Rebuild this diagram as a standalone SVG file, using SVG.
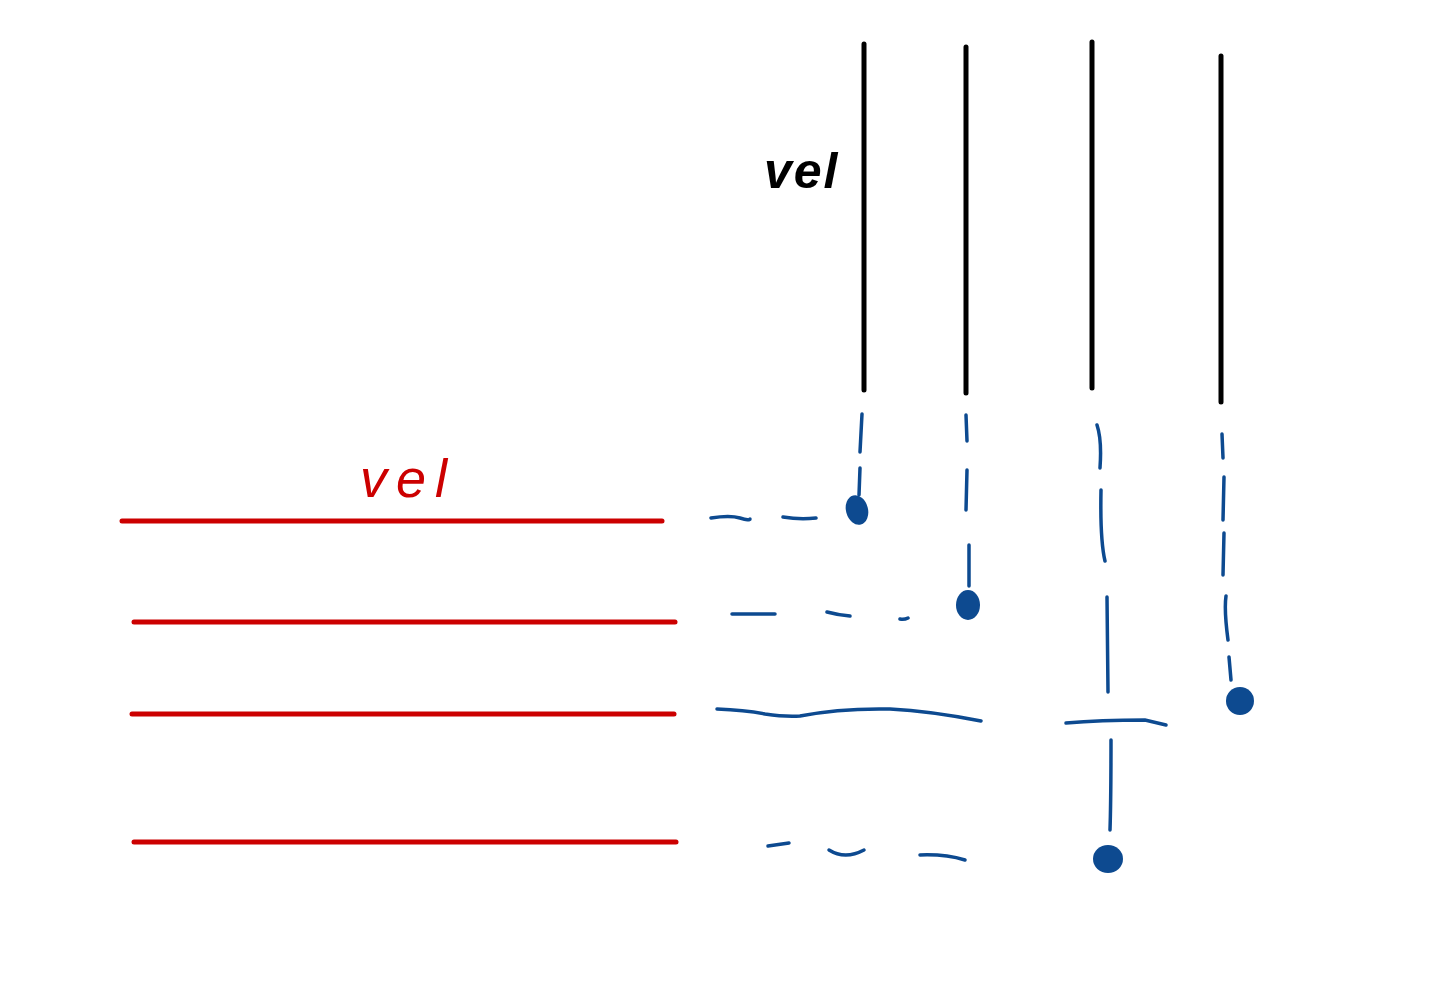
<svg xmlns="http://www.w3.org/2000/svg" width="1445" height="999" viewBox="0 0 1445 999">
<style>
.k{stroke:#000;stroke-width:5;stroke-linecap:round;fill:none}
.r{stroke:#cc0000;stroke-width:5;stroke-linecap:round;fill:none}
.b{stroke:#0d4a90;stroke-width:3.5;stroke-linecap:round;fill:none}
.d{fill:#0d4a90}
.t{font-family:"Liberation Sans",Arial,sans-serif;font-style:italic}
</style>
<rect width="1445" height="999" fill="#fff"/>
<g id="black-lines">
<line class="k" x1="864" y1="44" x2="864" y2="390"/>
<line class="k" x1="966" y1="47" x2="966" y2="393"/>
<line class="k" x1="1092" y1="42" x2="1092" y2="388"/>
<line class="k" x1="1221" y1="56" x2="1221" y2="402"/>
<text class="t" x="764" y="188" font-size="50" font-weight="bold" letter-spacing="2" fill="#000">vel</text>
</g>
<g id="red-lines">
<line class="r" x1="122" y1="521" x2="662" y2="521"/>
<line class="r" x1="134" y1="622" x2="675" y2="622"/>
<line class="r" x1="132" y1="714" x2="674" y2="714"/>
<line class="r" x1="134" y1="842" x2="676" y2="842"/>
<text class="t" x="360" y="497" font-size="54" letter-spacing="9" fill="#cc0000">vel</text>
</g>
<g id="connectors">
<path class="b" d="M862,414 L860,452 M860,468 L859,495"/>
<path class="b" d="M711,518 Q730,515 740,518 T750,519 M783,517 Q800,520 816,518"/>
<ellipse class="d" cx="857" cy="510" rx="11" ry="15" transform="rotate(-15 857 510)"/>
<path class="b" d="M966,415 L967,441 M967,470 L966,510 M969,545 L969,586"/>
<path class="b" d="M732,614 L775,614 M827,612 Q838,615 850,616 M900,619 Q904,620 908,618"/>
<ellipse class="d" cx="968" cy="605" rx="12" ry="15"/>
<path class="b" d="M717,709 Q745,710 765,714 Q785,717 800,716 Q840,708 890,709 Q930,711 981,721"/>
<path class="b" d="M1066,723 Q1100,720 1145,720 L1166,725"/>
<path class="b" d="M1097,425 Q1102,440 1100,468 M1101,490 Q1100,540 1105,561 M1107,597 L1108,692 M1111,740 Q1111,800 1110,830"/>
<ellipse class="d" cx="1108" cy="859" rx="15" ry="14"/>
<path class="b" d="M768,846 L789,843 M829,850 Q845,860 864,850 M920,855 Q945,854 965,860"/>
<path class="b" d="M1222,434 L1223,458 M1224,477 L1223,520 M1224,533 L1223,575 M1226,596 Q1224,610 1228,640 M1229,657 L1231,680"/>
<ellipse class="d" cx="1240" cy="701" rx="14" ry="14"/>
</g>
</svg>
